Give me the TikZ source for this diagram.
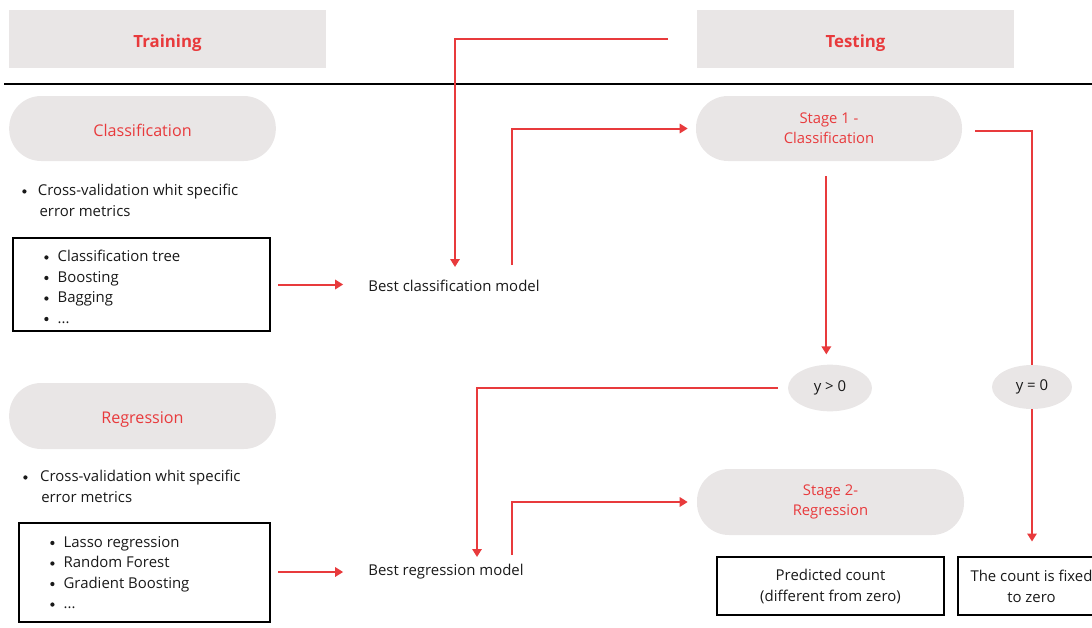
\documentclass[tikz,border=0pt]{standalone}
\usepackage{fontspec}
\setmainfont{Open Sans}
\usetikzlibrary{arrows.meta,shapes.geometric}
\definecolor{hl}{RGB}{232,58,60}
\definecolor{pale}{RGB}{233,230,230}
\definecolor{ink}{RGB}{25,25,25}
\newcommand\bul{\tikz[baseline=-3.2pt]\fill[ink] (0,0) circle (1.6pt);}
\tikzset{
  hdr/.style={fill=pale, minimum width=237.75pt, minimum height=43.5pt, text=hl, text height=12pt, text depth=0pt, font=\fontsize{12.6}{15}\selectfont\bfseries},
  pill/.style={fill=pale, rounded corners=24pt, minimum height=48.75pt, minimum width=200pt, text=hl, align=center},
  onepill/.style={pill, text height=11.6pt, text depth=0pt, font=\fontsize{12.1}{14}\selectfont},
  listbox/.style={draw=black, line width=2.2pt},
  outbox/.style={draw=black, line width=2.2pt, minimum height=43.5pt, align=center, text=ink, font=\fontsize{11.2}{15.75}\selectfont},
  oval/.style={ellipse, fill=pale, text=ink, font=\fontsize{11.2}{13}\selectfont},
  txt/.style={inner sep=0pt, text=ink, font=\fontsize{11.2}{15.4}\selectfont, align=left},
  arr/.style={draw=hl, line width=1.5pt, -{Triangle[width=7pt,length=6pt]}},
  redline/.style={draw=hl, line width=1.5pt},
}
\begin{document}
\begin{tikzpicture}[x=0.75pt,y=-0.75pt]
\useasboundingbox (0,0) rectangle (1092,628);
\clip (0,0) rectangle (1092,628);
% headers
\node[hdr] (train) at (167.5,39) {Training};
\node[hdr] (test) at (855.5,39) {Testing};
\draw[line width=1.6pt] (4,84) -- (1092,84);
% left column
\node[onepill] (cls) at (142.5,128.5) {Classification};
\node[txt, anchor=north west] (cv1) at (22,184) {\bul\hspace{8.5pt}Cross-validation whit specific\\\hspace{13pt}error metrics};
\node[listbox, minimum width=192.75pt, minimum height=69.75pt] (box1) at (141.5,284.5) {};
\node[txt, anchor=north west] (l1) at (44,250) {\bul\hspace{6.8pt}Classification tree\\\bul\hspace{6.8pt}Boosting\\\bul\hspace{6.8pt}Bagging\\\bul\hspace{6.8pt}...};
\node[txt] (bestc) at (454,286) {Best classification model};

\node[onepill, minimum height=49.5pt] (reg) at (142.5,416) {Regression};
\node[txt, anchor=north west] (cv2) at (23,470) {\bul\hspace{9.5pt}Cross-validation whit specific\\\hspace{13.5pt}error metrics};
\node[listbox, minimum width=188.25pt, minimum height=74.25pt] (box2) at (144.5,572.5) {};
\node[txt, anchor=north west] (l2) at (50,536) {\bul\hspace{6.8pt}Lasso regression\\\bul\hspace{6.8pt}Random Forest\\\bul\hspace{6.8pt}Gradient Boosting\\\bul\hspace{6.8pt}...};
\node[txt] (bestr) at (446,572) {Best regression model};
% right column
\node[pill, font=\fontsize{11.1}{15}\selectfont, minimum width=199.5pt] (st1) at (829,128.5) {Stage 1 -\\Classification};
\node[pill, font=\fontsize{11.1}{15}\selectfont, minimum width=200.25pt, minimum height=49.5pt] (st2) at (830.5,502) {Stage 2-\\Regression};
\node[oval, minimum width=63pt, minimum height=35pt] (ygt) at (830,388) {y > 0};
\node[oval, minimum width=60pt, minimum height=33pt] (yeq) at (1032,387) {y = 0};
\node[outbox, minimum width=170.25pt] (pred) at (830.5,586) {Predicted count\\(different from zero)};
\node[outbox, minimum width=110.25pt] (fix) at (1031.5,586) {The count is fixed\\to zero};
% connectors
\coordinate (t0) at (668,39);
\draw[arr] (t0) -| ([xshift=0.75pt,yshift=14.25pt]bestc.center);
\draw[arr, shorten >=6pt] ([xshift=43.5pt,yshift=15.75pt]bestc.center) |- (st1.west);
\draw[arr, shorten <=11.25pt, shorten >=7.5pt] ([xshift=-2pt]st1.south) -- ([xshift=-2pt]st1.south |- ygt.north);
\draw[redline, shorten <=9.75pt] ([yshift=-2pt]st1.east) -| (yeq.north);
\draw[arr, shorten <=7.5pt] (ygt.west) -| ([xshift=23.25pt,yshift=11.25pt]bestr.center);
\draw[arr, shorten >=6.75pt] ([xshift=49.5pt,yshift=12.75pt]bestr.center) |- (st2.west);
\draw[arr, shorten >=10.5pt] (yeq.south) -- (yeq.south |- fix.north);
\draw[arr, shorten <=5pt, shorten >=18.75pt] (box1.east) -- (box1.east -| bestc.west);
\draw[arr, shorten <=5pt, shorten >=18.75pt] (box2.east |- bestr.west) -- (bestr.west);
\end{tikzpicture}
\end{document}
